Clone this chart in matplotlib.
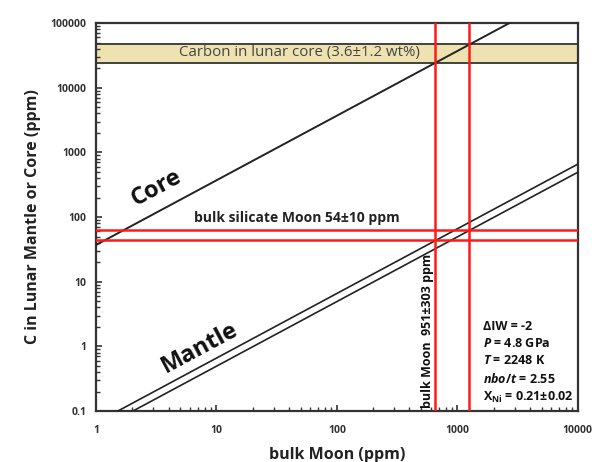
import numpy as np
import matplotlib
matplotlib.use("Agg")
import matplotlib.pyplot as plt
from matplotlib.ticker import LogLocator, FixedLocator, NullFormatter

# ---- data ----
x_range = [1, 10000]
y_range = [0.1, 100000]
core_factor = 37.0            # C_core = factor * bulk Moon
mantle_factors = [0.0658, 0.0493]  # two mantle lines
bsm_limits = [44, 64]         # bulk silicate Moon 54±10 ppm
bulk_moon_limits = [648, 1254]  # bulk Moon 951±303 ppm
core_band = [24000, 48000]    # 3.6±1.2 wt%
x_ticks = [1, 10, 100, 1000, 10000]
x_ticklabels = ["1", "10", "100", "1000", "10000"]
y_ticks = [0.1, 1, 10, 100, 1000, 10000, 100000]
y_ticklabels = ["0.1", "1", "10", "100", "1000", "10000", "100000"]

plt.rcParams['font.family'] = ['Open Sans', 'DejaVu Sans']
plt.rcParams['mathtext.fontset'] = 'custom'
plt.rcParams['mathtext.it'] = 'Open Sans:italic:bold'
plt.rcParams['mathtext.rm'] = 'Open Sans:bold'
plt.rcParams['mathtext.bf'] = 'Open Sans:bold'

fig = plt.figure(figsize=(6.05, 4.62), dpi=100)
ax = fig.add_axes([0.1587, 0.1104, 0.7963, 0.8396])
ax.set_xscale('log')
ax.set_yscale('log')
ax.set_xlim(*x_range)
ax.set_ylim(*y_range)

xs = np.logspace(0, 4, 200)
# core band
ax.axhspan(core_band[0], core_band[1], facecolor='#EEE3B0', edgecolor='none', zorder=1)
for v in core_band:
    ax.axhline(v, color='#333333', lw=1.3, zorder=2)

# core line
ax.plot(xs, core_factor * xs, color='#222222', lw=1.4, zorder=3)
# mantle lines
for f in mantle_factors:
    ax.plot(xs, f * xs, color='#222222', lw=1.2, zorder=3)

# red lines
for v in bsm_limits:
    ax.axhline(v, color='#ff1a1a', lw=1.8, zorder=4)
for v in bulk_moon_limits:
    ax.axvline(v, color='#ff1a1a', lw=1.8, zorder=4)

# texts
ax.text(49, 35000, "Carbon in lunar core (3.6±1.2 wt%)", ha='center', va='center',
        fontsize=10.8, color='#444444', zorder=5)
ax.text(46.6, 96, "bulk silicate Moon 54±10 ppm", ha='center', va='center',
        fontsize=10, fontweight='bold', color='#222222', zorder=5)
ax.text(3.2, 280, "Core", ha='center', va='center', rotation=28.2,
        fontsize=17, fontweight='bold', color='#111111', zorder=5)
ax.text(7.3, 0.94, "Mantle", ha='center', va='center', rotation=28.2,
        fontsize=17, fontweight='bold', color='#111111', zorder=5)
ax.text(560, 0.11, "bulk Moon  951±303 ppm", ha='center', va='bottom', rotation=90,
        fontsize=9, fontweight='bold', color='#111111', zorder=5)

info = ("ΔIW = -2\n"
        r"$P$ = 4.8 GPa" "\n"
        r"$T$ = 2248 K" "\n"
        r"$nbo/t$ = 2.55" "\n"
        r"X$_{\mathrm{Ni}}$ = 0.21±0.02")
ax.text(1629, 0.122, info, ha='left', va='bottom', fontsize=9, fontweight='bold',
        color='#111111', linespacing=1.42, zorder=5)

# ticks
ax.xaxis.set_major_locator(FixedLocator(x_ticks))
ax.set_xticklabels(x_ticklabels)
ax.yaxis.set_major_locator(FixedLocator(y_ticks))
ax.set_yticklabels(y_ticklabels)
ax.xaxis.set_minor_locator(LogLocator(base=10, subs=np.arange(2, 10), numticks=20))
ax.yaxis.set_minor_locator(LogLocator(base=10, subs=np.arange(2, 10), numticks=20))
ax.xaxis.set_minor_formatter(NullFormatter())
ax.yaxis.set_minor_formatter(NullFormatter())
ax.tick_params(which='both', direction='in', color='#333333')
ax.tick_params(which='major', length=4, width=1.2, labelsize=7.5)
ax.tick_params(axis='x', which='major', pad=10)
ax.tick_params(axis='y', which='major', pad=7)
ax.tick_params(which='minor', length=3, width=1.0)
for lab in ax.get_xticklabels() + ax.get_yticklabels():
    lab.set_fontweight('bold')
    lab.set_color('#333333')

for s in ax.spines.values():
    s.set_color('#333333')
    s.set_linewidth(1.6)

ax.set_xlabel("bulk Moon (ppm)", fontsize=11.5, fontweight='bold', color='#222222', labelpad=8)
ax.set_ylabel("C in Lunar Mantle or Core (ppm)", fontsize=11.5, fontweight='bold',
              color='#222222', labelpad=7)

fig.savefig("out.png", dpi=100)
